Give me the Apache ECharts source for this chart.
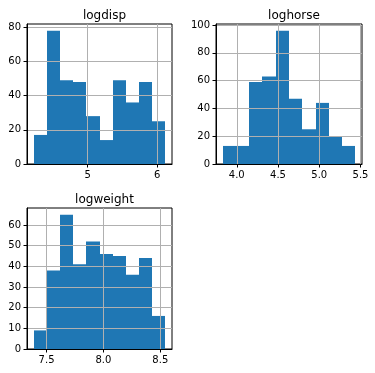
<!DOCTYPE html>
<html>
<head>
<meta charset="utf-8">
<script src="https://cdn.jsdelivr.net/npm/echarts@6/dist/echarts.min.js"></script>
<style>
html,body{margin:0;padding:0;background:#fff;}
#chart{width:375px;height:373px;}
</style>
</head>
<body>
<div id="chart"></div>
<script>
// ---- data ----
const titles = ['logdisp', 'loghorse', 'logweight'];
const logdispRange = [4.2195, 6.1203];
const logdispCounts = [17, 78, 49, 48, 28, 14, 49, 36, 48, 25];
const loghorseRange = [3.8286, 5.4381];
const loghorseCounts = [13, 13, 59, 63, 96, 47, 25, 44, 20, 13];
const logweightRange = [7.3859, 8.5449];
const logweightCounts = [9, 38, 65, 41, 52, 46, 45, 36, 44, 16];
const logdispXTicks = [5, 6];
const loghorseXTicks = [4.0, 4.5, 5.0, 5.5];
const logweightXTicks = [7.5, 8.0, 8.5];
const logdispYTicks = [0, 20, 40, 60, 80];
const loghorseYTicks = [0, 20, 40, 60, 80, 100];
const logweightYTicks = [0, 10, 20, 30, 40, 50, 60];

function binData(range, counts) {
  const n = counts.length;
  const w = (range[1] - range[0]) / n;
  return counts.map((c, i) => [range[0] + i * w, range[0] + (i + 1) * w, c]);
}

const panels = [
  {range: logdispRange, counts: logdispCounts, xt: logdispXTicks, yt: logdispYTicks, dec: 0,
   grid: {left: 27, top: 24, width: 145, height: 140}},
  {range: loghorseRange, counts: loghorseCounts, xt: loghorseXTicks, yt: loghorseYTicks, dec: 1,
   grid: {left: 216, top: 24, width: 146, height: 140}},
  {range: logweightRange, counts: logweightCounts, xt: logweightXTicks, yt: logweightYTicks, dec: 1,
   grid: {left: 27, top: 208, width: 145, height: 141}}
];

const font = 'DejaVu Sans';
const grids = [], xAxes = [], yAxes = [], series = [], titleOpts = [];

panels.forEach((p, i) => {
  const span = p.range[1] - p.range[0];
  const xmin = p.range[0] - 0.05 * span;
  const xmax = p.range[1] + 0.05 * span;
  const ymax = Math.max(...p.counts) * 1.05;
  grids.push(Object.assign({show: true, borderColor: '#000', borderWidth: 1, backgroundColor: 'transparent'}, p.grid));
  titleOpts.push({
    text: titles[i],
    left: p.grid.left + p.grid.width / 2,
    top: p.grid.top - 19,
    textAlign: 'center',
    textStyle: {fontFamily: font, fontSize: 12, fontWeight: 'normal', color: '#000'}
  });
  const dec = p.dec;
  xAxes.push({
    type: 'value', gridIndex: i, min: xmin, max: xmax, z: 5,
    axisLine: {show: true, onZero: false, lineStyle: {color: '#000', width: 1}},
    axisTick: {show: true, inside: false, length: 3.5, customValues: p.xt, lineStyle: {color: '#000', width: 1}},
    axisLabel: {show: true, customValues: p.xt, margin: 6, fontFamily: font, fontSize: 10, color: '#000',
      formatter: v => Number(v).toFixed(dec)},
    splitLine: {show: true, lineStyle: {color: '#b0b0b0', width: 1}}
  });
  yAxes.push({
    type: 'value', gridIndex: i, min: 0, max: ymax, z: 5,
    axisLine: {show: true, lineStyle: {color: '#000', width: 1}},
    axisTick: {show: true, inside: false, length: 3.5, customValues: p.yt, lineStyle: {color: '#000', width: 1}},
    axisLabel: {show: true, customValues: p.yt, margin: 6, fontFamily: font, fontSize: 10, color: '#000',
      formatter: v => String(Math.round(v))},
    splitLine: {show: true, lineStyle: {color: '#b0b0b0', width: 1}}
  });
  series.push({
    type: 'custom', xAxisIndex: i, yAxisIndex: i, z: 2,
    data: binData(p.range, p.counts),
    renderItem: function (params, api) {
      const a = api.coord([api.value(0), api.value(2)]);
      const b = api.coord([api.value(1), 0]);
      const x0 = Math.round(a[0]), x1 = Math.round(b[0]);
      return {
        type: 'rect',
        shape: {x: x0, y: a[1], width: x1 - x0, height: b[1] - a[1]},
        style: {fill: '#1f77b4'}
      };
    },
    silent: true
  });
});

const chart = echarts.init(document.getElementById('chart'), null, {renderer: 'canvas'});
chart.setOption({
  animation: false,
  backgroundColor: '#fff',
  title: titleOpts,
  grid: grids,
  xAxis: xAxes,
  yAxis: yAxes,
  series: series
});
</script>
</body>
</html>
